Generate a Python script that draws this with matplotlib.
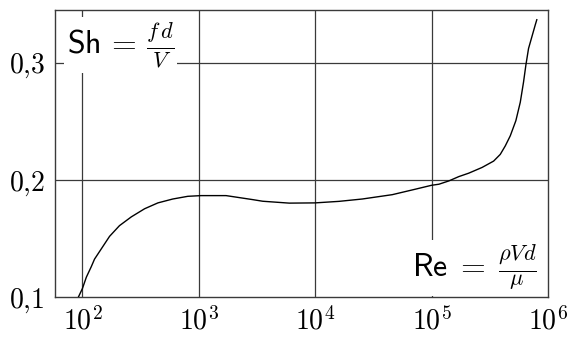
import numpy as np
import matplotlib
matplotlib.use("Agg")
import matplotlib.pyplot as plt
from matplotlib.ticker import FixedLocator, FixedFormatter, NullLocator

plt.rcParams['mathtext.fontset'] = 'cm'

# Data (Reynolds number, Strouhal number)
re_values = [92, 100, 108, 119, 127, 146, 171, 208, 263, 342, 445, 597, 804, 1047,
             1714, 2228, 2897, 3540, 5984, 9977, 16000, 25350, 45920, 72780,
             100000, 115600, 140600, 171400, 208400, 271600, 341200, 389000,
             429500, 474200, 529700, 578100, 616600, 645700, 680800, 727800,
             778000, 801700]
sh_values = [0.1000, 0.1076, 0.1172, 0.1261, 0.1326, 0.1417, 0.1520, 0.1611, 0.1686,
             0.1755, 0.1805, 0.1838, 0.1861, 0.1867, 0.1867, 0.1850, 0.1833, 0.1819,
             0.1803, 0.1805, 0.1818, 0.1838, 0.1875, 0.1922, 0.1955, 0.1964, 0.1992,
             0.2029, 0.2058, 0.2107, 0.2161, 0.2218, 0.2290, 0.2376, 0.2505, 0.2662,
             0.2834, 0.2978, 0.3120, 0.3221, 0.3322, 0.3365]

x_ticks = [1e2, 1e3, 1e4, 1e5, 1e6]
x_tick_labels = [r'$10^2$', r'$10^3$', r'$10^4$', r'$10^5$', r'$10^6$']
y_ticks = [0.1, 0.2, 0.3]
y_tick_labels = [r'$0{,}1$', r'$0{,}2$', r'$0{,}3$']

fig = plt.figure(figsize=(5.75, 3.42), dpi=100)
ax = fig.add_axes([0.0948, 0.1304, 0.9530 - 0.0948, 0.9708 - 0.1304])
ax.set_xscale('log')
ax.set_xlim(10**1.76, 1e6)
ax.set_ylim(0.1, 0.3448)

gc = '#3a3a3a'
for xv in x_ticks[:-1]:
    ax.axvline(xv, color=gc, lw=0.9, zorder=1)
for yv in y_ticks[1:]:
    ax.axhline(yv, color=gc, lw=0.9, zorder=1)

ax.plot(re_values, sh_values, color='black', lw=1.0, zorder=3,
        solid_joinstyle='round', clip_on=True)

ax.xaxis.set_major_locator(FixedLocator(x_ticks))
ax.xaxis.set_major_formatter(FixedFormatter(x_tick_labels))
ax.xaxis.set_minor_locator(NullLocator())
ax.yaxis.set_major_locator(FixedLocator(y_ticks))
ax.yaxis.set_major_formatter(FixedFormatter(y_tick_labels))
ax.tick_params(axis='both', length=0, labelsize=20, pad=7)

for s in ax.spines.values():
    s.set_color(gc)
    s.set_linewidth(1.0)

ax.text(0.025, 0.878, r'$\mathsf{Sh}\,=\,\frac{f\,d}{V}$', transform=ax.transAxes,
        fontsize=23, ha='left', va='center', zorder=5,
        bbox=dict(facecolor='white', edgecolor='none', pad=2))
ax.text(0.977, 0.102, r'$\mathsf{Re}\;=\;\frac{\rho V d}{\mu}$', transform=ax.transAxes,
        fontsize=23, ha='right', va='center', zorder=5,
        bbox=dict(facecolor='white', edgecolor='none', pad=2))

fig.savefig('out.png', dpi=100)
